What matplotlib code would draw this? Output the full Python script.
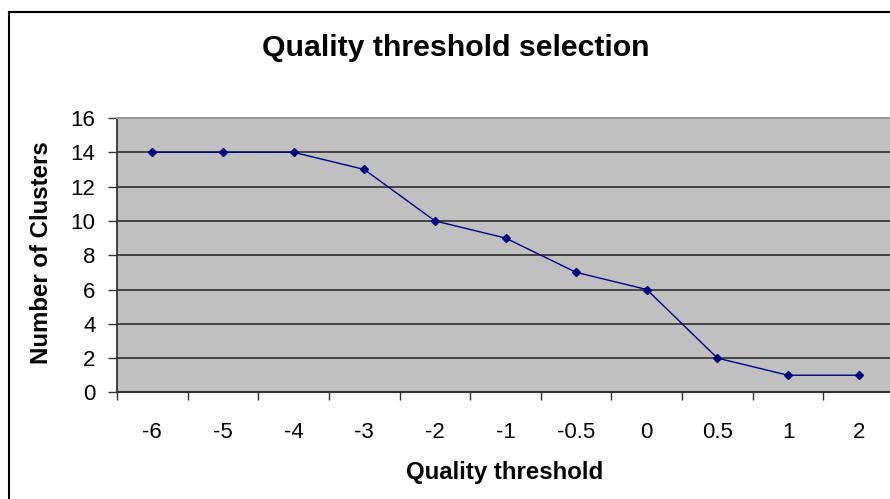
import matplotlib
matplotlib.use("Agg")
import matplotlib.pyplot as plt
from matplotlib.lines import Line2D
import numpy as np

plt.rcParams['font.family'] = ['Liberation Sans', 'DejaVu Sans']

thresholds = ["-6", "-5", "-4", "-3", "-2", "-1", "-0.5", "0", "0.5", "1", "2"]
clusters = [14, 14, 14, 13, 10, 9, 7, 6, 2, 1, 1]
y_ticks = [0, 2, 4, 6, 8, 10, 12, 14, 16]

W, H = 890, 499
fig = plt.figure(figsize=(W / 100, H / 100), dpi=100)
fig.patch.set_facecolor("white")

# plot area in pixel coordinates (extends a little past the right edge)
left_px, right_px, top_px, bottom_px = 117, 894, 118, 392.4
ax = fig.add_axes([left_px / W, 1 - bottom_px / H,
                   (right_px - left_px) / W, (bottom_px - top_px) / H])
ax.set_facecolor("#c0c0c0")

n = len(thresholds)
x = np.arange(n)
ax.set_xlim(-0.5, n - 0.5)
ax.set_ylim(0, 16)

for v in y_ticks[1:-1]:
    ax.axhline(v, color="#3a3a3a", lw=1.3, zorder=1)

ax.plot(x, clusters, color="#000080", lw=1.0, marker="D", markersize=4.2,
        markerfacecolor="#000080", markeredgecolor="#000080", zorder=3)

for side in ["right", "bottom"]:
    ax.spines[side].set_visible(False)
ax.spines["top"].set_color("#999999")
ax.spines["top"].set_linewidth(1.5)
ax.spines["left"].set_color("#333333")
ax.spines["left"].set_linewidth(1.3)
ax.axhline(0, color="#333333", lw=1.5, zorder=2, clip_on=False)

ax.set_yticks(y_ticks)
ax.set_yticklabels([str(v) for v in y_ticks])
ax.tick_params(axis="y", length=6.5, width=1.0, color="#333333", pad=9,
               labelsize=16)

# category boundaries carry the tick marks, centres carry the labels
ax.set_xticks(np.arange(-0.5, n, 1.0))
ax.set_xticklabels([])
ax.tick_params(axis="x", which="major", length=6, width=1.0, color="#333333")
ax.set_xticks(x, minor=True)
ax.set_xticklabels(thresholds, minor=True)
ax.tick_params(axis="x", which="minor", length=0, pad=21, labelsize=16)

fig.text(456 / W, 1 - 48 / H, "Quality threshold selection", ha="center",
         va="center", fontsize=21.8, fontweight="bold")
fig.text(505 / W, 1 - 472 / H, "Quality threshold", ha="center",
         va="center", fontsize=17.3, fontweight="bold")
fig.text(42 / W, 1 - 253 / H, "Number of Clusters", ha="center",
         va="center", rotation=90, fontsize=17.3, fontweight="bold")

# chart-area frame (left and top edges visible)
fig.add_artist(Line2D([9 / W, 9 / W], [0, 1 - 12 / H], transform=fig.transFigure,
                      color="black", lw=1.5))
fig.add_artist(Line2D([9 / W, 1], [1 - 12 / H, 1 - 12 / H],
                      transform=fig.transFigure, color="black", lw=1.5))

fig.savefig("out.png", dpi=100, facecolor="white")
